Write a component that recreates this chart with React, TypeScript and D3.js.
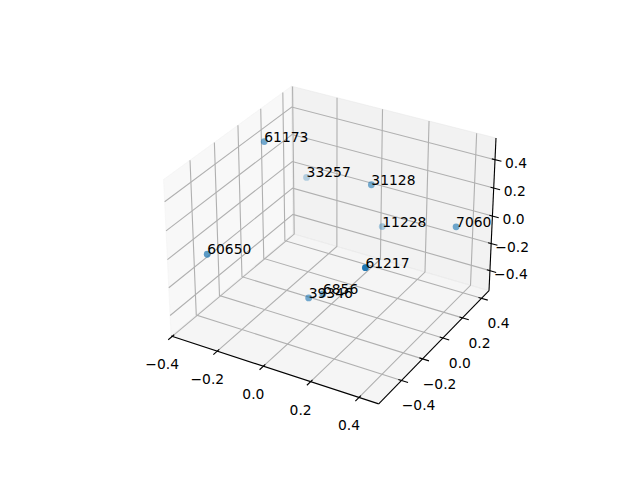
import * as d3 from 'd3';
import React from 'react';

// scatter values
const labels = ['61173', '33257', '31128', '11228', '7060', '60650', '61217', '6856', '39346'];
const xVals = [-0.343, -0.337, 0.042, 0.006, 0.375, -0.358, 0.298, 0.009, -0.048];
const yVals = [0.104, 0.475, 0.285, 0.48, 0.363, -0.376, -0.336, -0.098, -0.11];
const zVals = [0.4, -0.086, 0.15, -0.3, -0.05, -0.1, 0.1, -0.4, -0.45];

const ticks = [-0.4, -0.2, 0, 0.2, 0.4];
const xLim = [-0.405, 0.48];
const yLim = [-0.61, 0.48];
const zLim = [-0.55, 0.55];

const BLUE = '#1f77b4';
const GRID = '#b0b0b0';
const FONT = 'DejaVu Sans';
const LW = 1.11; // 0.8pt at 100 dpi

// same camera as a default mplot3d axes
const elev = (30 * Math.PI) / 180;
const azim = (-60 * Math.PI) / 180;
const dist = 10;
const k = (1.8294640721620434 * 25) / 24 / Math.hypot(4, 4, 3);
const box = [4 * k, 4 * k, 3 * k];

const sx = d3.scaleLinear().domain(xLim).range([0, box[0]]);
const sy = d3.scaleLinear().domain(yLim).range([0, box[1]]);
const sz = d3.scaleLinear().domain(zLim).range([0, box[2]]);

const w = [Math.cos(elev) * Math.cos(azim), Math.cos(elev) * Math.sin(azim), Math.sin(elev)];
const eye = [box[0] / 2 + dist * w[0], box[1] / 2 + dist * w[1], box[2] / 2 + dist * w[2]];
const uLen = Math.hypot(w[0], w[1]);
const u = [-w[1] / uLen, w[0] / uLen, 0];
const v = [w[1] * u[2] - w[2] * u[1], w[2] * u[0] - w[0] * u[2], w[0] * u[1] - w[1] * u[0]];

const dot = (a: number[], b: number[]) => a[0] * b[0] + a[1] * b[1] + a[2] * b[2];

// 2D axes limits mapped onto the square axes box
const px = d3.scaleLinear().domain([-0.095, 0.09]).range([143.2, 512.8]);
const py = d3.scaleLinear().domain([-0.095, 0.09]).range([427.2, 57.6]);

const project = (x: number, y: number, z: number) => {
  const p = [sx(x) - eye[0], sy(y) - eye[1], sz(z) - eye[2]];
  const depth = -dot(w, p);
  return { x: px(dot(u, p) / depth), y: py(dot(v, p) / depth), depth };
};

const path3d = (pts: number[][], close = false) => {
  const line = d3.line<number[]>()
    .x(d => project(d[0], d[1], d[2]).x)
    .y(d => project(d[0], d[1], d[2]).y);
  return line(pts) + (close ? 'Z' : '');
};

const [x0, x1] = xLim;
const [y0, y1] = yLim;
const [z0, z1] = zLim;

const tickIn = 0.015;
const tickOut = 0.03;
const fmt = (t: number) => t.toFixed(1).replace('-', '\u2212');

const points = labels.map((label, i) => ({ label, ...project(xVals[i], yVals[i], zVals[i]) }));
const depthAlpha = d3.scaleLinear()
  .domain(d3.extent(points, d => d.depth) as [number, number])
  .range([1, 0.3]);
const sorted = [...points].sort((a, b) => b.depth - a.depth);

export default function App() {
  const xSpan = x1 - x0;
  const ySpan = y1 - y0;
  return (
    <svg width={640} height={480} style={{ position: 'absolute', left: 0, top: 0 }} fontFamily={FONT}>
      <rect width={640} height={480} fill="white" />

      {/* panes */}
      <path d={path3d([[x0, y0, z0], [x0, y1, z0], [x0, y1, z1], [x0, y0, z1]], true)} fill="#f2f2f2" fillOpacity={0.5} stroke="#f2f2f2" strokeOpacity={0.5} />
      <path d={path3d([[x0, y1, z0], [x1, y1, z0], [x1, y1, z1], [x0, y1, z1]], true)} fill="#e6e6e6" fillOpacity={0.5} stroke="#e6e6e6" strokeOpacity={0.5} />
      <path d={path3d([[x0, y0, z0], [x1, y0, z0], [x1, y1, z0], [x0, y1, z0]], true)} fill="#ececec" fillOpacity={0.5} stroke="#ececec" strokeOpacity={0.5} />

      {/* grid */}
      <g fill="none" stroke={GRID} strokeWidth={LW}>
        {ticks.map(t => <path key={'gx' + t} d={path3d([[t, y0, z0], [t, y1, z0], [t, y1, z1]])} />)}
        {ticks.map(t => <path key={'gy' + t} d={path3d([[x1, t, z0], [x0, t, z0], [x0, t, z1]])} />)}
        {ticks.map(t => <path key={'gz' + t} d={path3d([[x0, y0, t], [x0, y1, t], [x1, y1, t]])} />)}
      </g>

      {/* axis lines and ticks */}
      <g fill="none" stroke="black" strokeWidth={LW}>
        <path d={path3d([[x0, y0, z0], [x1, y0, z0]])} />
        <path d={path3d([[x1, y0, z0], [x1, y1, z0]])} />
        <path d={path3d([[x1, y1, z0], [x1, y1, z1]])} />
        {ticks.map(t => <path key={'tx' + t} d={path3d([[t, y0 + tickIn * ySpan, z0], [t, y0 - tickOut * ySpan, z0]])} />)}
        {ticks.map(t => <path key={'ty' + t} d={path3d([[x1 - tickIn * xSpan, t, z0], [x1 + tickOut * xSpan, t, z0]])} />)}
        {ticks.map(t => <path key={'tz' + t} d={path3d([[x1 - tickIn * xSpan, y1, t], [x1 + tickOut * xSpan, y1, t]])} />)}
      </g>

      {/* tick labels */}
      <g fontSize={13.89} textAnchor="middle" dominantBaseline="central" fill="black">
        {ticks.map(t => {
          const p = project(t, y0, z0);
          return <text key={'lx' + t} x={p.x - 10} y={p.y + 28}>{fmt(t)}</text>;
        })}
        {ticks.map(t => {
          const p = project(x1, t, z0);
          return <text key={'ly' + t} x={p.x + 17} y={p.y + 25}>{fmt(t)}</text>;
        })}
        {ticks.map(t => {
          const p = project(x1, y1, t);
          return <text key={'lz' + t} x={p.x + 21} y={p.y + 3}>{fmt(t)}</text>;
        })}
      </g>

      {/* points, far ones first */}
      <g>
        {sorted.map(d => (
          <circle key={d.label} cx={d.x} cy={d.y} r={3.4} fill={BLUE} opacity={depthAlpha(d.depth)} />
        ))}
      </g>

      <g fontSize={13.89} fill="black">
        {points.map(d => <text key={d.label} x={d.x} y={d.y}>{d.label}</text>)}
      </g>
    </svg>
  );
}
